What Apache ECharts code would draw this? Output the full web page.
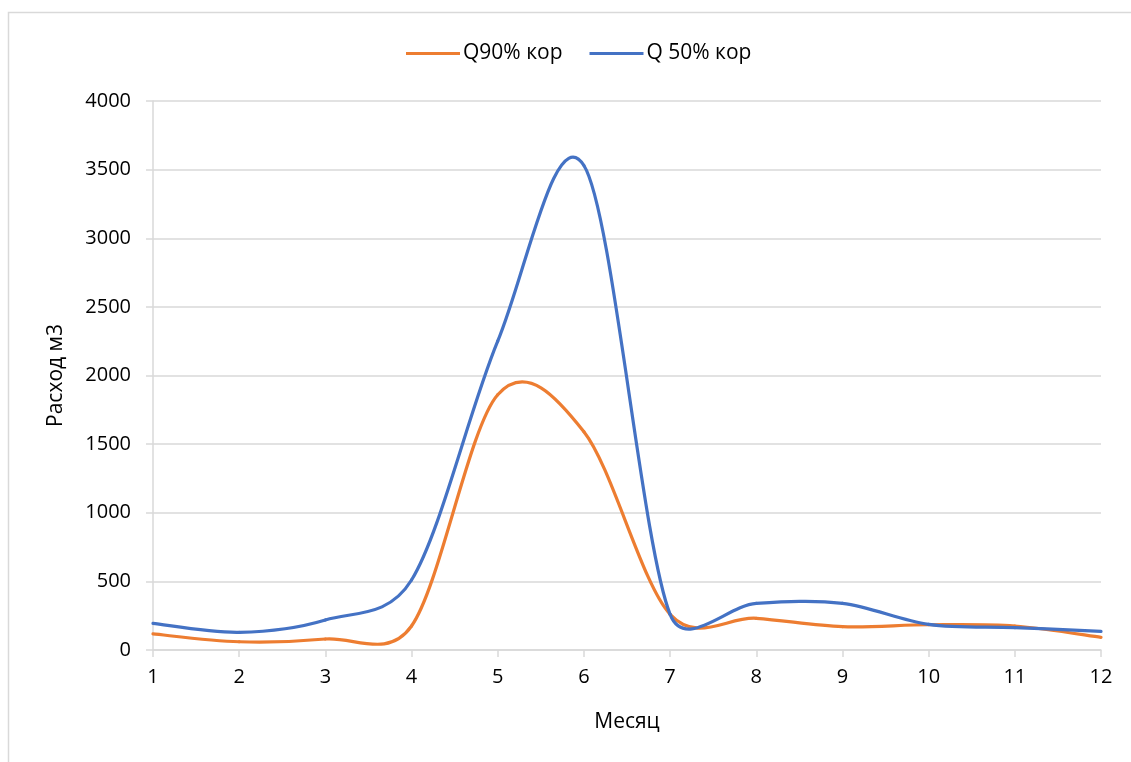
<!DOCTYPE html>
<html>
<head>
<meta charset="utf-8">
<script src="https://cdn.jsdelivr.net/npm/echarts@6/dist/echarts.min.js"></script>
<style>
  html, body { margin: 0; padding: 0; background: #ffffff; overflow: hidden; }
  #chart { width: 1131px; height: 762px; }
</style>
</head>
<body>
<div id="chart"></div>
<script>
// Monthly discharge, two exceedance probabilities
const months = ['1', '2', '3', '4', '5', '6', '7', '8', '9', '10', '11', '12'];
const q90 = [117, 60, 80, 175, 1860, 1590, 260, 231, 170, 184, 175, 92];
const q50 = [194, 129, 219, 510, 2250, 3530, 260, 340, 340, 187, 163, 136];
const yTicks = { min: 0, max: 4000, interval: 500 };

const FONT = 'Open Sans';
const TEXT = '#000000';
const GRID = '#d9d9d9';

// Smoothed line: each segment i -> i+1 is a cubic Bezier. Control points
// follow the neighbouring points (Catmull-Rom, 1/6 of the chord), and are
// pulled in when they would reach too far along a short segment.
function smoothSegment(values, color) {
  const T = 1 / 6;
  const REACH = 0.47;
  return function (params, api) {
    const i = params.dataIndex;
    const n = values.length;
    if (i >= n - 1) return null;
    const p = k => {
      const c = Math.max(0, Math.min(n - 1, k));
      return api.coord([c, values[c]]);
    };
    const dist = (a, b) => Math.hypot(b[0] - a[0], b[1] - a[1]);
    // control point leaving point k (dir = +1) or arriving at it (dir = -1)
    const control = (k, dir) => {
      const prev = p(k - 1), cur = p(k), next = p(k + 1);
      let ox = (next[0] - prev[0]) * T, oy = (next[1] - prev[1]) * T;
      const seg = dist(cur, dir > 0 ? next : prev);
      const len = Math.hypot(ox, oy);
      if (len > REACH * seg && len > 0) {
        const s = REACH * seg / len;
        ox *= s; oy *= s;
      }
      return [cur[0] + dir * ox, cur[1] + dir * oy];
    };
    const a = p(i), b = p(i + 1);
    const c1 = control(i, 1), c2 = control(i + 1, -1);
    return {
      type: 'bezierCurve',
      shape: { x1: a[0], y1: a[1], x2: b[0], y2: b[1], cpx1: c1[0], cpy1: c1[1], cpx2: c2[0], cpy2: c2[1] },
      style: { fill: null, stroke: color, lineWidth: 3.2, lineCap: 'round' },
      silent: true
    };
  };
}

function curveSeries(name, values, color) {
  return {
    name: name,
    type: 'custom',
    coordinateSystem: 'cartesian2d',
    data: values.map((v, i) => [i, v]),
    encode: { x: 0, y: 1 },
    itemStyle: { color: color },
    renderItem: smoothSegment(values, color)
  };
}

const chart = echarts.init(document.getElementById('chart'), null, { renderer: 'canvas' });

chart.setOption({
  animation: false,
  backgroundColor: '#ffffff',
  textStyle: { fontFamily: FONT },
  graphic: [{
    type: 'rect',
    shape: { x: 8.5, y: 12.5, width: 1140, height: 770 },
    style: { fill: 'none', stroke: GRID, lineWidth: 1.5 },
    silent: true,
    z: -10
  }],
  legend: {
    top: 38,
    left: 401,
    itemWidth: 54,
    itemHeight: 3,
    itemGap: 27,
    icon: 'rect',
    textStyle: { fontFamily: FONT, fontSize: 21, color: TEXT, padding: [0, 0, 0, -2] },
    data: ['Q90% кор', 'Q 50% кор']
  },
  grid: { left: 153, right: 30, top: 101, bottom: 112, containLabel: false },
  xAxis: {
    type: 'category',
    data: months,
    boundaryGap: false,
    name: 'Месяц',
    nameLocation: 'middle',
    nameGap: 62,
    nameTextStyle: { fontFamily: FONT, fontSize: 21, color: TEXT },
    axisLine: { lineStyle: { color: GRID, width: 1.5 } },
    axisTick: { show: true, inside: false, length: 7, alignWithLabel: true, lineStyle: { color: GRID, width: 1.5 } },
    axisLabel: { fontFamily: FONT, fontSize: 20, color: TEXT, margin: 17 },
    splitLine: { show: false }
  },
  yAxis: {
    type: 'value',
    min: yTicks.min,
    max: yTicks.max,
    interval: yTicks.interval,
    name: 'Расход м3',
    nameLocation: 'middle',
    nameGap: 86,
    nameRotate: 90,
    nameTextStyle: { fontFamily: FONT, fontSize: 21, color: TEXT },
    axisLine: { show: true, lineStyle: { color: GRID, width: 1.5 } },
    axisTick: { show: true, inside: false, length: 7, lineStyle: { color: GRID, width: 1.5 } },
    axisLabel: { fontFamily: FONT, fontSize: 20, color: TEXT, margin: 22, formatter: v => String(v) },
    splitLine: { show: true, lineStyle: { color: GRID, width: 1.5 } }
  },
  series: [
    curveSeries('Q90% кор', q90, '#ED7D31'),
    curveSeries('Q 50% кор', q50, '#4472C4')
  ]
});
</script>
</body>
</html>
